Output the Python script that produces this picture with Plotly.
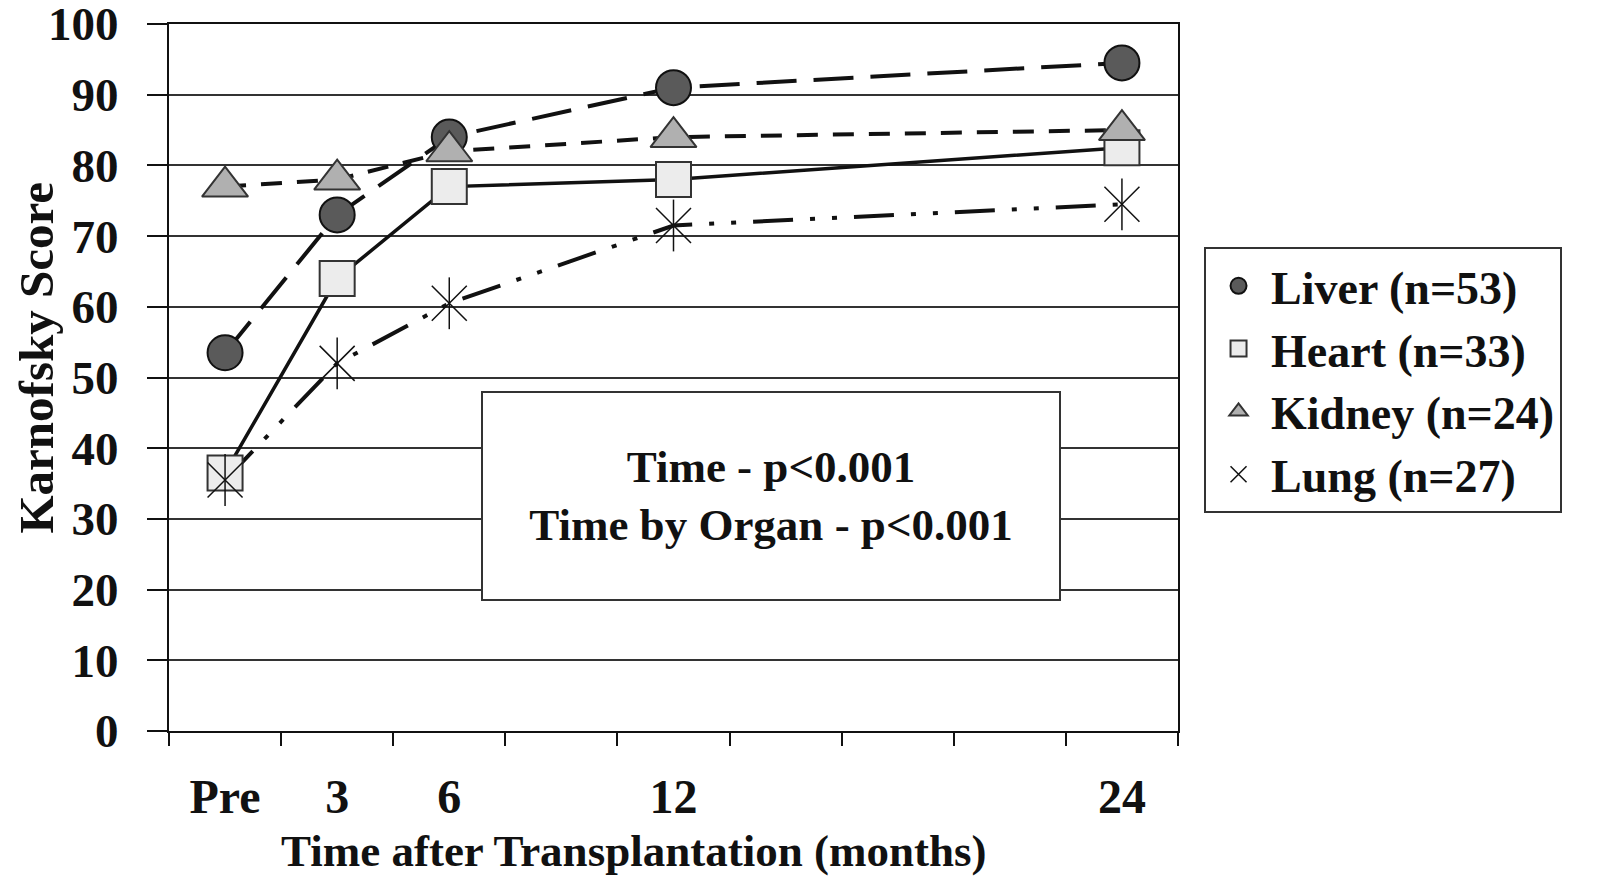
import plotly.graph_objects as go

# ---- data ----
x_labels = ["Pre", "3", "6", "12", "24"]
x_slots = [0, 1, 2, 4, 8]          # slot of each time point on the 9-slot axis
liver = [53.5, 73, 84, 91, 94.5]
heart = [36.5, 64, 77, 78, 82.5]
kidney = [77, 78, 82, 84, 85]
lung = [35.5, 52, 60.5, 71.5, 74.5]
series_names = ["Liver (n=53)", "Heart (n=33)", "Kidney (n=24)", "Lung (n=27)"]
y_ticks = list(range(0, 101, 10))

FONT = "Liberation Serif"
INK = "#111111"

styles = [
    dict(y=liver, dash="40px,17px", width=4,
         marker=dict(symbol="circle", size=35, color="#5a5a5a", line=dict(color=INK, width=2))),
    dict(y=heart, dash="solid", width=3.5,
         marker=dict(symbol="square", size=35, color="#ececec", line=dict(color="#333", width=2))),
    dict(y=kidney, dash="21px,15px", width=4,
         marker=dict(symbol="triangle-up", size=40, color="#b0b0b0", line=dict(color="#333", width=2))),
    dict(y=lung, dash="40px,17px,5px,17px,5px,17px", width=4,
         marker=dict(symbol="x-thin-open", size=35, color=INK, line=dict(color=INK, width=1.5))),
]

fig = go.Figure()

# lines (no legend)
for name, s in zip(series_names, styles):
    fig.add_trace(go.Scatter(
        x=x_slots, y=s["y"], mode="lines", showlegend=False, hoverinfo="skip",
        line=dict(color=INK, width=s["width"], dash=s["dash"]),
    ))

# markers (legend entries)
for name, s in zip(series_names, styles):
    fig.add_trace(go.Scatter(
        x=x_slots, y=s["y"], mode="markers", name=name, marker=s["marker"],
    ))

# vertical stroke of the lung asterisk
fig.add_trace(go.Scatter(
    x=x_slots, y=lung, mode="markers", showlegend=False, hoverinfo="skip",
    marker=dict(symbol="line-ns-open", size=37, color=INK, line=dict(color=INK, width=1.5)),
))

fig.update_layout(
    width=1610, height=878,
    margin=dict(l=161, r=440, t=16, b=155),
    paper_bgcolor="white", plot_bgcolor="white",
    font=dict(family=FONT, color=INK, size=46),
    legend=dict(
        x=1.0258, y=0.684, xanchor="left", yanchor="top",
        font=dict(family=FONT, size=46, color=INK, weight="bold"),
        bordercolor="#333", borderwidth=2, bgcolor="white",
        itemsizing="trace", itemwidth=55,
    ),
    xaxis=dict(
        range=[-0.5, 8.5], tickmode="array", tickvals=x_slots, ticktext=x_labels,
        ticks="", showgrid=False, zeroline=False, automargin=False,
        showline=True, linecolor=INK, linewidth=2, mirror=True,
        tickfont=dict(family=FONT, size=48, color=INK, weight="bold"),
        ticklabelstandoff=22,
        minor=dict(tickmode="array", tickvals=[i - 0.5 for i in range(10)],
                   ticks="outside", ticklen=13, tickwidth=2, tickcolor=INK, showgrid=False),
    ),
    yaxis=dict(
        range=[0, 100], tickmode="array", tickvals=y_ticks,
        ticks="outside", ticklen=20, tickwidth=2, tickcolor=INK,
        showgrid=True, gridcolor="#333", gridwidth=2, zeroline=False, automargin=False,
        showline=True, linecolor=INK, linewidth=2, mirror=True,
        tickfont=dict(family=FONT, size=47, color=INK, weight="bold"),
        ticklabelstandoff=19, ticklabeloverflow="allow",
    ),
    annotations=[
        dict(text="Time after Transplantation (months)", xref="paper", yref="paper",
             x=0.460, y=-0.170, xanchor="center", yanchor="middle", showarrow=False,
             font=dict(family=FONT, size=45, color=INK, weight="bold")),
        dict(text="Karnofsky Score", xref="paper", yref="paper", textangle=-90,
             x=-0.131, y=0.528, xanchor="center", yanchor="middle", showarrow=False,
             font=dict(family=FONT, size=49, color=INK, weight="bold")),
        dict(text="Time - p<0.001<br>Time by Organ - p<0.001", xref="paper", yref="paper",
             x=0.597, y=0.333, xanchor="center", yanchor="middle", showarrow=False,
             width=570, height=200,
             bgcolor="white", bordercolor="#333", borderwidth=2, borderpad=3,
             font=dict(family=FONT, size=45, color=INK, weight="bold")),
    ],
)

fig.write_html("out.html")
